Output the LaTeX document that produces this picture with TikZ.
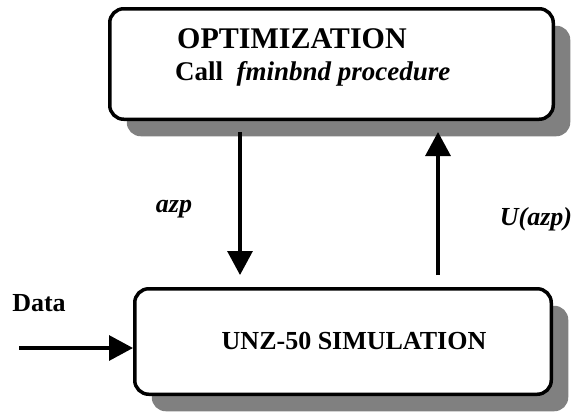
\documentclass[tikz,border=0pt]{standalone}
\usepackage{fontspec}
\setmainfont{Liberation Serif}
\usetikzlibrary{arrows.meta,shadows}
\begin{document}
\begin{tikzpicture}[x=1pt,y=-1pt,
  box/.style={draw=black, line width=3.5pt, rounded corners=14pt, fill=white,
    drop shadow={shadow xshift=17pt, shadow yshift=-17pt, fill=black!50, opacity=1}},
  arr/.style={line width=3.2pt, -{Triangle[width=25pt,length=24pt]}},
  lbl/.style={font=\fontsize{26}{30}\selectfont\bfseries\itshape, inner sep=0pt},
  txt/.style={font=\fontsize{26}{30}\selectfont\bfseries, inner sep=0pt}
]
\useasboundingbox (0,0) rectangle (577,413);
\node[box, minimum width=443.5pt, minimum height=110.5pt] (opt) at (331.5,64) {};
\node[box, minimum width=416.5pt, minimum height=105.5pt] (sim) at (343,341.5) {};
\node[txt, anchor=west, font=\fontsize{30}{32}\selectfont\bfseries] (t1) at (177,39) {OPTIMIZATION};
\node[txt, anchor=west, font=\fontsize{27}{30}\selectfont\bfseries] (t2) at (175,74) {Call \ \textit{fminbnd procedure}};
\node[txt] (t3) at (354,341) {UNZ-50 SIMULATION};
\node[lbl] (azp) at (174,209) {azp};
\node[lbl] (uazp) at (536,219) {U(azp)};
\node[txt] (data) at (39,303) {Data};
\coordinate (din) at (19,348);
\coordinate (xa) at (240,0);
\coordinate (xb) at (438,0);
\draw[arr, shorten <=11pt, shorten >=12pt] (opt.south -| xa) -- (sim.north -| xa);
\draw[arr, shorten <=12pt, shorten >=11pt] (sim.north -| xb) -- (opt.south -| xb);
\draw[arr] (din) -- (din -| sim.west);
\end{tikzpicture}
\end{document}
